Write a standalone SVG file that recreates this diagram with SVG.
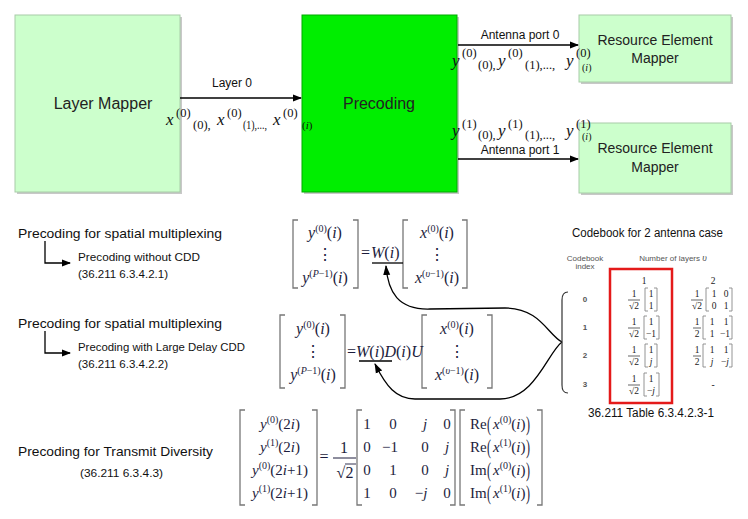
<svg xmlns="http://www.w3.org/2000/svg" width="748" height="519" viewBox="0 0 748 519">
<style>
.lbl{font-family:"Liberation Sans",Arial,sans-serif;font-size:12px;fill:#111}
.box{font-family:"Liberation Sans",Arial,sans-serif;fill:#222}
.cal{font-family:"Liberation Sans",Arial,sans-serif;fill:#111}
.eq{font-family:"Liberation Serif","Times New Roman",serif;font-size:16px;fill:#1c1c3c}
.eq3{font-family:"Liberation Serif","Times New Roman",serif;font-size:15px;fill:#1c1c3c}
.cb{font-family:"Liberation Serif","Times New Roman",serif;font-size:9.5px;fill:#222}
.cbs{font-family:"Liberation Sans",Arial,sans-serif;font-size:8px;fill:#555}
.i{font-style:italic}
.sup{font-size:10px}
.brk{fill:none;stroke:#777;stroke-width:1.3}
.cbrk{fill:none;stroke:#888;stroke-width:0.9}
.conn{fill:none;stroke:#000;stroke-width:1.3}
.lg{fill:#ccffcc;stroke:#a8cca8;stroke-width:1}
.sh{fill:#c8c8c8}
.sym{font-family:"Liberation Serif","Times New Roman",serif;fill:#111}
</style>
<defs>
<marker id="ah" markerWidth="9" markerHeight="8" refX="8" refY="4" orient="auto" markerUnits="userSpaceOnUse"><path d="M0,0.5 L9,4 L0,7.5 z" fill="#000"/></marker>
<marker id="ah2" markerWidth="10" markerHeight="8" refX="9" refY="4" orient="auto" markerUnits="userSpaceOnUse"><path d="M0,0.5 L10,4 L0,7.5 z" fill="#000"/></marker>
</defs>
<rect width="748" height="519" fill="#fff"/>

<g id="layer-mapper">
<rect class="sh" x="17" y="17" width="165" height="177"/>
<rect class="lg" x="15" y="15" width="165" height="177"/>
<text class="box" x="103" y="109" font-size="16" text-anchor="middle">Layer Mapper</text>
</g>
<g id="precoding">
<rect class="sh" x="304" y="17" width="155" height="177"/>
<rect x="302" y="15" width="155" height="177" fill="#00ee00" stroke="#00aa00" stroke-width="1"/>
<text class="box" x="379" y="109" font-size="16" text-anchor="middle">Precoding</text>
</g>
<g id="re-mapper-0">
<rect class="sh" x="581" y="17" width="152" height="67"/>
<rect class="lg" x="579" y="15" width="152" height="67"/>
<text class="box" x="655" y="45" font-size="14" text-anchor="middle">Resource Element</text>
<text class="box" x="655" y="63" font-size="14" text-anchor="middle">Mapper</text>
</g>
<g id="re-mapper-1">
<rect class="sh" x="581" y="125" width="152" height="70"/>
<rect class="lg" x="579" y="123" width="152" height="70"/>
<text class="box" x="655" y="153" font-size="14" text-anchor="middle">Resource Element</text>
<text class="box" x="655" y="172" font-size="14" text-anchor="middle">Mapper</text>
</g>

<g id="connectors">
<line class="conn" x1="180" y1="98" x2="301" y2="98" marker-end="url(#ah)"/>
<line class="conn" x1="458" y1="45" x2="578" y2="45" marker-end="url(#ah)"/>
<line class="conn" x1="458" y1="159" x2="578" y2="159" marker-end="url(#ah)"/>
<path class="conn" d="M45,241 V263 H70" marker-end="url(#ah)"/>
<path class="conn" d="M45,331 V353 H70" marker-end="url(#ah)"/>
<path class="conn" d="M562,342 C548,335 540,308 505,308 L430,309 C398,310 388,292 386,266" marker-end="url(#ah2)"/>
<path class="conn" d="M562,342 C548,352 535,399 500,399 L415,399 C396,399 386,386 375,364" marker-end="url(#ah2)"/>
</g>

<g id="edge-labels">
<text class="lbl" x="232" y="87" text-anchor="middle">Layer 0</text>
<text class="lbl" x="520" y="39" text-anchor="middle">Antenna port 0</text>
<text class="lbl" x="520" y="154" text-anchor="middle">Antenna port 1</text>
<g class="sym">
<text x="166" y="125" font-size="17" class="i">x</text>
<text x="176" y="117" font-size="12.5">(0)</text>
<text x="193" y="129" font-size="12.5">(0),</text>
<text x="217" y="125" font-size="17" class="i">x</text>
<text x="227" y="117" font-size="12.5">(0)</text>
<text x="243" y="129" font-size="12.5" textLength="24" lengthAdjust="spacingAndGlyphs">(1),...,</text>
<text x="273" y="125" font-size="17" class="i">x</text>
<text x="283" y="117" font-size="12.5">(0)</text>
<text x="302" y="129" font-size="11">(<tspan class="i">i</tspan>)</text>

<text x="452" y="66" font-size="17" class="i">y</text>
<text x="462" y="57" font-size="12.5">(0)</text>
<text x="478" y="69" font-size="12.5">(0),</text>
<text x="498" y="66" font-size="17" class="i">y</text>
<text x="508" y="57" font-size="12.5">(0)</text>
<text x="525" y="69" font-size="12.5">(1),...,</text>
<text x="566" y="66" font-size="17" class="i">y</text>
<text x="576" y="57" font-size="12.5">(0)</text>
<text x="582" y="71" font-size="10">(<tspan class="i">i</tspan>)</text>

<text x="452" y="136" font-size="17" class="i">y</text>
<text x="462" y="128" font-size="12.5">(1)</text>
<text x="478" y="139" font-size="12.5">(0),</text>
<text x="498" y="136" font-size="17" class="i">y</text>
<text x="508" y="128" font-size="12.5">(1)</text>
<text x="525" y="139" font-size="12.5">(1),...,</text>
<text x="566" y="136" font-size="17" class="i">y</text>
<text x="576" y="128" font-size="12.5">(1)</text>
<text x="582" y="140" font-size="10">(<tspan class="i">i</tspan>)</text>
</g>
</g>

<g id="captions">
<text class="cal" x="18" y="238" font-size="13" textLength="204" lengthAdjust="spacingAndGlyphs">Precoding for spatial multiplexing</text>
<text class="cal" x="78" y="261" font-size="11" textLength="122" lengthAdjust="spacingAndGlyphs">Precoding without CDD</text>
<text class="cal" x="78" y="278" font-size="11" textLength="90" lengthAdjust="spacingAndGlyphs">(36.211 6.3.4.2.1)</text>
<text class="cal" x="18" y="328" font-size="13" textLength="204" lengthAdjust="spacingAndGlyphs">Precoding for spatial multiplexing</text>
<text class="cal" x="78" y="351" font-size="11" textLength="167" lengthAdjust="spacingAndGlyphs">Precoding with Large Delay CDD</text>
<text class="cal" x="78" y="368" font-size="11" textLength="90" lengthAdjust="spacingAndGlyphs">(36.211 6.3.4.2.2)</text>
<text class="cal" x="18" y="456" font-size="13" textLength="195" lengthAdjust="spacingAndGlyphs">Precoding for Transmit Diversity</text>
<text class="cal" x="80" y="477" font-size="11" textLength="83" lengthAdjust="spacingAndGlyphs">(36.211 6.3.4.3)</text>
<text class="cal" x="572" y="237" font-size="12" textLength="151" lengthAdjust="spacingAndGlyphs">Codebook for 2 antenna case</text>
<text class="cal" x="588" y="417" font-size="12" textLength="126" lengthAdjust="spacingAndGlyphs">36.211 Table 6.3.4.2.3-1</text>
</g>

<g id="equation-1">
<path class="brk" d="M298,220 H293 V288 H298 M353,220 H358 V288 H353 M408,220 H403 V288 H408 M462,220 H467 V288 H462"/>
<text class="eq" x="325" y="238" text-anchor="middle"><tspan class="i">y</tspan><tspan class="sup" dy="-6">(0)</tspan><tspan dy="6">(</tspan><tspan class="i">i</tspan>)</text>
<text class="eq" x="325" y="260" text-anchor="middle">⋮</text>
<text class="eq" x="325" y="283" text-anchor="middle"><tspan class="i">y</tspan><tspan class="sup" dy="-6">(<tspan class="i">P</tspan>−1)</tspan><tspan dy="6">(</tspan><tspan class="i">i</tspan>)</text>
<text class="eq" x="361" y="258">=<tspan class="i" dx="1">W</tspan>(<tspan class="i">i</tspan>)</text>
<line x1="372" y1="263" x2="403" y2="263" stroke="#000" stroke-width="1.3"/>
<text class="eq" x="437" y="238" text-anchor="middle"><tspan class="i">x</tspan><tspan class="sup" dy="-6">(0)</tspan><tspan dy="6">(</tspan><tspan class="i">i</tspan>)</text>
<text class="eq" x="437" y="260" text-anchor="middle">⋮</text>
<text class="eq" x="437" y="283" text-anchor="middle"><tspan class="i">x</tspan><tspan class="sup" dy="-6">(<tspan class="i">υ</tspan>−1)</tspan><tspan dy="6">(</tspan><tspan class="i">i</tspan>)</text>
</g>

<g id="equation-2">
<path class="brk" d="M285,315 H280 V388 H285 M340,315 H345 V388 H340 M427,315 H422 V388 H427 M487,315 H492 V388 H487"/>
<text class="eq" x="313" y="334" text-anchor="middle"><tspan class="i">y</tspan><tspan class="sup" dy="-6">(0)</tspan><tspan dy="6">(</tspan><tspan class="i">i</tspan>)</text>
<text class="eq" x="313" y="357" text-anchor="middle">⋮</text>
<text class="eq" x="313" y="380" text-anchor="middle"><tspan class="i">y</tspan><tspan class="sup" dy="-6">(<tspan class="i">P</tspan>−1)</tspan><tspan dy="6">(</tspan><tspan class="i">i</tspan>)</text>
<text class="eq" x="347" y="357">=<tspan class="i">W</tspan>(<tspan class="i">i</tspan>)<tspan class="i">D</tspan>(<tspan class="i">i</tspan>)<tspan class="i">U</tspan></text>
<line x1="359" y1="361" x2="392" y2="361" stroke="#000" stroke-width="1.3"/>
<text class="eq" x="457" y="334" text-anchor="middle"><tspan class="i">x</tspan><tspan class="sup" dy="-6">(0)</tspan><tspan dy="6">(</tspan><tspan class="i">i</tspan>)</text>
<text class="eq" x="457" y="357" text-anchor="middle">⋮</text>
<text class="eq" x="457" y="380" text-anchor="middle"><tspan class="i">x</tspan><tspan class="sup" dy="-6">(<tspan class="i">υ</tspan>−1)</tspan><tspan dy="6">(</tspan><tspan class="i">i</tspan>)</text>
</g>

<g id="equation-3">
<path class="brk" d="M245,410 H240 V505 H245 M312,410 H317 V505 H312 M362,410 H357 V505 H362 M450,410 H455 V505 H450 M465,410 H460 V505 H465 M537,410 H542 V505 H537"/>
<g class="eq3" text-anchor="middle">
<text x="280" y="429"><tspan class="i">y</tspan><tspan class="sup" dy="-6">(0)</tspan><tspan dy="6">(2</tspan><tspan class="i">i</tspan>)</text>
<text x="280" y="452"><tspan class="i">y</tspan><tspan class="sup" dy="-6">(1)</tspan><tspan dy="6">(2</tspan><tspan class="i">i</tspan>)</text>
<text x="280" y="475"><tspan class="i">y</tspan><tspan class="sup" dy="-6">(0)</tspan><tspan dy="6">(2</tspan><tspan class="i">i</tspan>+1)</text>
<text x="280" y="498"><tspan class="i">y</tspan><tspan class="sup" dy="-6">(1)</tspan><tspan dy="6">(2</tspan><tspan class="i">i</tspan>+1)</text>
<text x="324" y="462" font-size="16">=</text>
<text x="344" y="453" font-size="16">1</text>
<text x="345" y="478" font-size="16">√2</text>
<text x="367" y="429">1</text><text x="393" y="429">0</text><text x="425" y="429" class="i">j</text><text x="447" y="429">0</text>
<text x="367" y="452">0</text><text x="390" y="452">−1</text><text x="425" y="452">0</text><text x="447" y="452" class="i">j</text>
<text x="367" y="475">0</text><text x="393" y="475">1</text><text x="425" y="475">0</text><text x="447" y="475" class="i">j</text>
<text x="367" y="498">1</text><text x="393" y="498">0</text><text x="421" y="498">−<tspan class="i">j</tspan></text><text x="447" y="498">0</text>
</g>
<line x1="333" y1="458" x2="356" y2="458" stroke="#1c1c3c" stroke-width="1"/>
<line x1="345" y1="464" x2="356" y2="464" stroke="#1c1c3c" stroke-width="0.9"/>
<g class="eq3">
<text x="470" y="429">Re</text><text x="470" y="452">Re</text><text x="470" y="475">Im</text><text x="470" y="498">Im</text>
<text transform="translate(487,431) scale(0.8,1.45)" font-size="15">(</text>
<text transform="translate(487,454) scale(0.8,1.45)" font-size="15">(</text>
<text transform="translate(487,477) scale(0.8,1.45)" font-size="15">(</text>
<text transform="translate(487,500) scale(0.8,1.45)" font-size="15">(</text>
<text x="493" y="429"><tspan class="i">x</tspan><tspan class="sup" dy="-6">(0)</tspan><tspan dy="6">(</tspan><tspan class="i">i</tspan>)</text>
<text x="493" y="452"><tspan class="i">x</tspan><tspan class="sup" dy="-6">(1)</tspan><tspan dy="6">(</tspan><tspan class="i">i</tspan>)</text>
<text x="493" y="475"><tspan class="i">x</tspan><tspan class="sup" dy="-6">(0)</tspan><tspan dy="6">(</tspan><tspan class="i">i</tspan>)</text>
<text x="493" y="498"><tspan class="i">x</tspan><tspan class="sup" dy="-6">(1)</tspan><tspan dy="6">(</tspan><tspan class="i">i</tspan>)</text>
<text transform="translate(526,431) scale(0.8,1.45)" font-size="15">)</text>
<text transform="translate(526,454) scale(0.8,1.45)" font-size="15">)</text>
<text transform="translate(526,477) scale(0.8,1.45)" font-size="15">)</text>
<text transform="translate(526,500) scale(0.8,1.45)" font-size="15">)</text>
</g>
</g>

<g id="codebook">
<text class="cbs" x="585" y="261" text-anchor="middle">Codebook</text>
<text class="cbs" x="585" y="269" text-anchor="middle">index</text>
<text class="cbs" x="673" y="261" text-anchor="middle">Number of layers <tspan font-family="Liberation Serif,serif" font-style="italic" font-size="10">υ</tspan></text>
<path d="M568,292 C563,292 562,296 562,300 L562,385 C562,390 563,393 568,393" fill="none" stroke="#333" stroke-width="1.2"/>
<rect x="610" y="269" width="62" height="134" fill="none" stroke="#e41a1a" stroke-width="2.5"/>
<g class="cbs" font-weight="bold" fill="#222" text-anchor="middle">
<text x="585" y="302">0</text><text x="585" y="330">1</text><text x="585" y="358">2</text><text x="585" y="387">3</text>
</g>
<g class="cb" text-anchor="middle">
<text x="644" y="284">1</text><text x="713" y="284">2</text>
<text x="634" y="297">1</text><text x="634" y="309">√2</text>
<text x="651" y="297">1</text><text x="651" y="309">1</text>
<text x="634" y="325">1</text><text x="634" y="337">√2</text>
<text x="651" y="325">1</text><text x="651" y="337">−1</text>
<text x="634" y="353">1</text><text x="634" y="365">√2</text>
<text x="651" y="353">1</text><text x="651" y="365" class="i">j</text>
<text x="634" y="382">1</text><text x="634" y="394">√2</text>
<text x="651" y="382">1</text><text x="651" y="394">−<tspan class="i">j</tspan></text>
<text x="697" y="297">1</text><text x="697" y="309">√2</text>
<text x="714" y="297">1</text><text x="726" y="297">0</text><text x="714" y="309">0</text><text x="726" y="309">1</text>
<text x="697" y="325">1</text><text x="697" y="337">2</text>
<text x="712" y="325">1</text><text x="726" y="325">1</text><text x="712" y="337">1</text><text x="725" y="337">−1</text>
<text x="697" y="353">1</text><text x="697" y="365">2</text>
<text x="712" y="353">1</text><text x="726" y="353">1</text><text x="712" y="365" class="i">j</text><text x="725" y="365">−<tspan class="i">j</tspan></text>
<text x="713" y="388">-</text>
</g>
<g stroke="#222" stroke-width="0.7">
<line x1="628" y1="300" x2="640" y2="300"/><line x1="628" y1="328" x2="640" y2="328"/><line x1="628" y1="356" x2="640" y2="356"/><line x1="628" y1="385" x2="640" y2="385"/>
<line x1="691" y1="300" x2="703" y2="300"/><line x1="693" y1="328" x2="701" y2="328"/><line x1="693" y1="356" x2="701" y2="356"/>
</g>
<path class="cbrk" d="M648,288 H645 V311 H648 M654,288 H657 V311 H654 M647,316 H644 V339 H647 M656,316 H659 V339 H656 M648,344 H645 V367 H648 M654,344 H657 V367 H654 M647,373 H644 V396 H647 M656,373 H659 V396 H656 M709,288 H706 V311 H709 M729,288 H732 V311 H729 M706,316 H703 V339 H706 M729,316 H732 V339 H729 M706,344 H703 V367 H706 M729,344 H732 V367 H729"/>
</g>
</svg>
